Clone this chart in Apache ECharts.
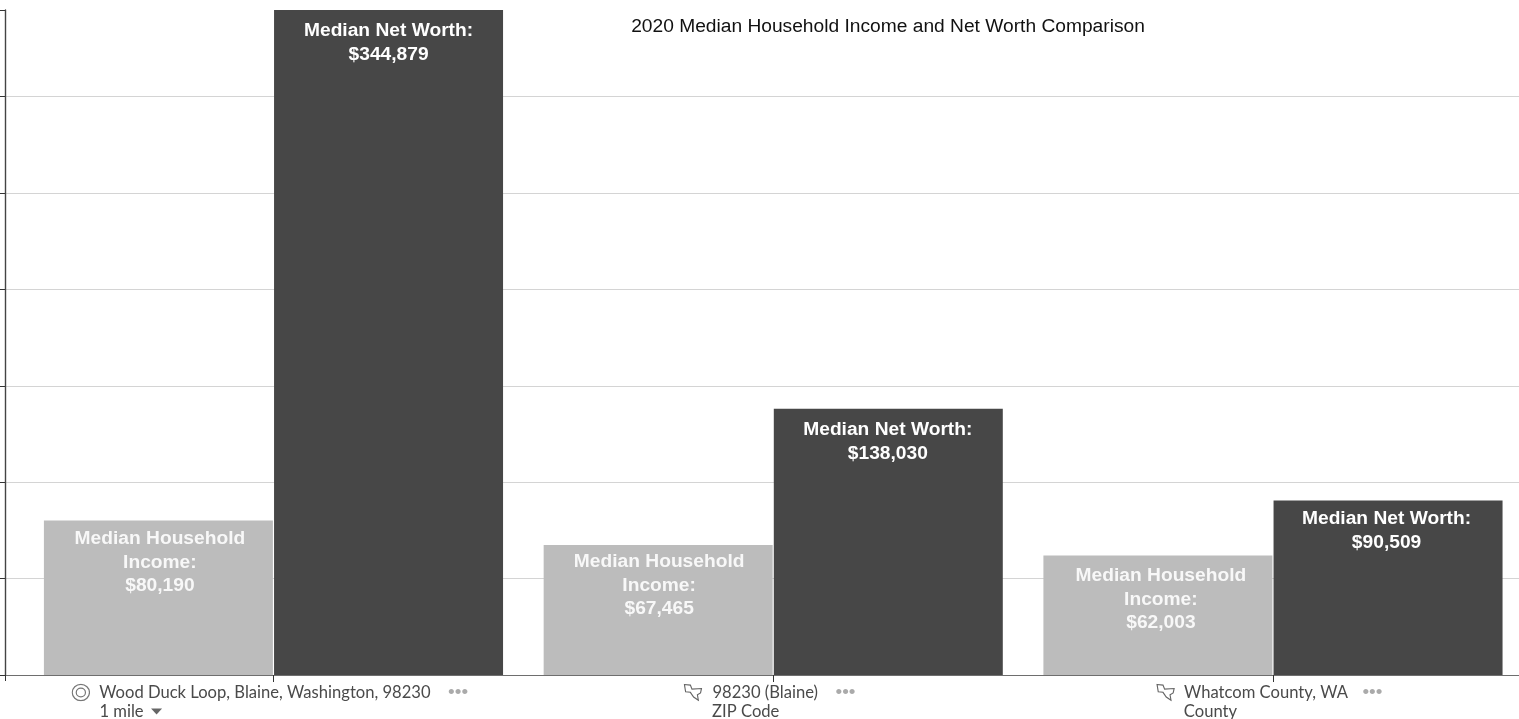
<!DOCTYPE html>
<html>
<head>
<meta charset="utf-8">
<style>html,body{margin:0;padding:0;background:#fff;overflow:hidden;width:1519px;height:719px}#c{width:1519px;height:719px}</style>
<script src="https://cdn.jsdelivr.net/npm/echarts@6/dist/echarts.min.js"></script>
</head>
<body>
<div id="c"></div>
<script>
const titleText = '2020 Median Household Income and Net Worth Comparison';
const areaNames = ['Wood Duck Loop, Blaine, Washington, 98230', '98230 (Blaine)', 'Whatcom County, WA'];
const areaTypes = ['1 mile', 'ZIP Code', 'County'];
const incomeValues = [80190, 67465, 62003];
const netWorthValues = [344879, 138030, 90509];
const yMax = 344879;
const yInterval = 50000;

const svgUri = s => 'data:image/svg+xml;utf8,' + encodeURIComponent(s);
const targetIcon = svgUri('<svg xmlns="http://www.w3.org/2000/svg" width="38" height="38" viewBox="0 0 19 19"><circle cx="9.5" cy="9.5" r="8.6" fill="none" stroke="#777" stroke-width="1.2"/><circle cx="9.5" cy="9.5" r="4.6" fill="none" stroke="#777" stroke-width="1.2"/></svg>');
const mapIcon = svgUri('<svg xmlns="http://www.w3.org/2000/svg" width="40" height="38" viewBox="0 0 20 19"><path d="M1 1 L7.3 1.7 L9 6 L19 5.3 L18 10 L14.7 12 L15.7 17.7 L10.7 14.3 L7.3 9.3 L2.3 8.7 Z" fill="none" stroke="#666" stroke-width="1.2"/></svg>');
const caretIcon = svgUri('<svg xmlns="http://www.w3.org/2000/svg" width="24" height="14" viewBox="0 0 12 7"><path d="M0.5 0.5 L11.5 0.5 L6 6.5 Z" fill="#666"/></svg>');

// Each label block is centred on its tick; spacer tokens fill each line out to the block width.
const labelFont = '16.6px Lato';
const ctx = document.createElement('canvas').getContext('2d');
ctx.font = labelFont;
const textW = s => ctx.measureText(s).width;
const blockWidths = [404, 180, 234];
const iconWidths = [28, 29, 28];
const nameSpans = [349, 124, 179];
const icons = ['tgt', 'map', 'map'];

const base = {fontFamily: 'Lato', fontSize: 16.6, color: '#4a4a4a', lineHeight: 19};
const rich = {
  tgt: {width: 19, height: 18, backgroundColor: {image: targetIcon}},
  map: {width: 19, height: 18, backgroundColor: {image: mapIcon}},
  t: base,
  d: {fontFamily: 'Liberation Sans', fontSize: 19, color: '#aaaaaa', width: 19, lineHeight: 19},
  car: {width: 12, height: 7, backgroundColor: {image: caretIcon}}
};
const spacer = key => { rich[key] = {width: +key.slice(1), height: 18}; return key; };
const space = w => '{' + spacer('s' + Math.max(1, Math.round(w))) + '|}';

const axisFormatter = (name, i) => {
  const firstGap = space(iconWidths[i] - 19);
  const afterName = space(nameSpans[i] - textW(name));
  const line1 = `{${icons[i]}|}${firstGap}{t|${name}}${afterName}{d|•••}${space(8)}`;
  const typeW = Math.round(textW(areaTypes[i]));
  const caret = i === 0 ? space(7) + '{car|}' : '';
  const caretW = i === 0 ? 19 : 0;
  const line2 = space(iconWidths[i]) + `{t|${areaTypes[i]}}${caret}` +
    space(blockWidths[i] - iconWidths[i] - typeW - caretW);
  return line1 + '\n' + line2;
};
// Pre-build so that every spacer exists in rich before setOption.
areaNames.forEach((n, i) => axisFormatter(n, i));

const money = v => '$' + v.toLocaleString('en-US');
const incomeOffsets = [[1.5, 1], [1, -0.5], [3, 3]];
const worthOffsets = [[0, 0], [-0.5, -0.5], [-1.5, -3]];

const chart = echarts.init(document.getElementById('c'), null, {renderer: 'canvas'});
chart.setOption({
  animation: false,
  backgroundColor: '#fff',
  title: {
    text: titleText, left: 888, top: 17, textAlign: 'center', padding: 0,
    textStyle: {fontFamily: 'Liberation Sans', fontSize: 19.2, fontWeight: 'normal', color: '#111'}
  },
  grid: [
    {left: 23.6, width: 1499.25, top: 10, bottom: 44, containLabel: false, outerBoundsMode: 'none'},
    {left: 5, right: 0, top: 10, bottom: 44, containLabel: false, outerBoundsMode: 'none'}
  ],
  xAxis: [
    {
      type: 'category', gridIndex: 0, data: areaNames,
      axisLine: {show: false},
      axisTick: {show: true, alignWithLabel: true, length: 7, lineStyle: {color: '#333'}},
      axisLabel: {show: true, interval: 0, margin: 8, hideOverlap: false, rich, formatter: axisFormatter}
    },
    {
      type: 'value', gridIndex: 1, min: 0, max: 1, interval: 1, offset: 1,
      axisLine: {show: true, lineStyle: {color: '#6e6e6e', width: 1.2}},
      axisTick: {show: true, length: 6, lineStyle: {color: '#333'}},
      axisLabel: {show: false}, splitLine: {show: false}
    }
  ],
  yAxis: [
    {type: 'value', gridIndex: 0, min: 0, max: yMax, show: false},
    {
      type: 'value', gridIndex: 1, min: 0, max: yMax, interval: yInterval,
      axisLine: {show: true, lineStyle: {color: '#444', width: 1.4}},
      axisTick: {show: true, length: 5, lineStyle: {color: '#333'}},
      axisLabel: {show: false},
      splitLine: {show: true, showMaxLine: false, showMinLine: false, lineStyle: {color: '#d4d4d4', width: 1.2}}
    }
  ],
  series: [
    {
      name: 'Median Household Income', type: 'bar', xAxisIndex: 0, yAxisIndex: 0,
      data: incomeValues.map((value, i) => ({value, label: {offset: incomeOffsets[i]}})),
      barWidth: 229, barGap: '0.5%',
      itemStyle: {color: '#bcbcbc'},
      label: {
        show: true, position: 'insideTop', distance: 6,
        fontFamily: 'Liberation Sans', fontSize: 19.2, fontWeight: 'bold', color: '#f8f8f8', lineHeight: 23.5,
        formatter: p => 'Median Household\nIncome:\n' + money(p.value)
      }
    },
    {
      name: 'Median Net Worth', type: 'bar', xAxisIndex: 0, yAxisIndex: 0,
      data: netWorthValues.map((value, i) => ({value, label: {offset: worthOffsets[i]}})),
      barWidth: 229,
      itemStyle: {color: '#474747'},
      label: {
        show: true, position: 'insideTop', distance: 9,
        fontFamily: 'Liberation Sans', fontSize: 19.2, fontWeight: 'bold', color: '#ffffff', lineHeight: 24,
        formatter: p => 'Median Net Worth:\n' + money(p.value)
      }
    }
  ]
});
</script>
</body>
</html>
